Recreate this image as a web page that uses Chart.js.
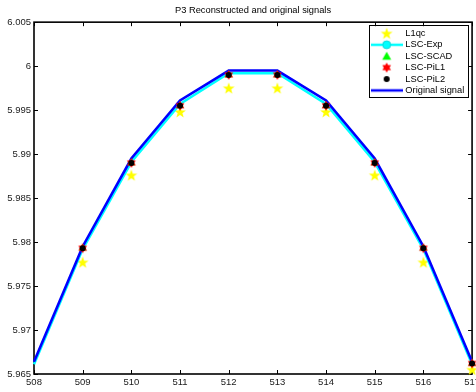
<!DOCTYPE html>
<html><head><meta charset="utf-8">
<script src="https://cdn.jsdelivr.net/npm/chart.js@4/dist/chart.umd.min.js"></script>
<style>
html,body{margin:0;padding:0;overflow:hidden;background:#fff;width:476px;height:392px}
#wrap{position:absolute;left:0;top:0;width:483px;height:392px}
</style>
</head><body><div id="wrap"><canvas id="c" width="483" height="392"></canvas></div>
<script>
// ---- data ----
const categories = [508, 509, 510, 511, 512, 513, 514, 515, 516, 517];
const yTicks = [5.965, 5.97, 5.975, 5.98, 5.985, 5.99, 5.995, 6, 6.005];
const originalSignal = [5.9664, 5.9795, 5.9895, 5.9961, 5.9995, 5.9995, 5.9961, 5.9895, 5.9795, 5.9664];
const lscExp        = [5.9661, 5.9792, 5.9891, 5.9957, 5.9992, 5.9992, 5.9957, 5.9891, 5.9792, 5.9661];
const lscScad       = [null, 5.9793, 5.9890, 5.9955, 5.9990, 5.9990, 5.9955, 5.9890, 5.9793, 5.9662];
const lscPil1       = [null, 5.9793, 5.9890, 5.9955, 5.9990, 5.9990, 5.9955, 5.9890, 5.9793, 5.9662];
const lscPil2       = [null, 5.9793, 5.9890, 5.9955, 5.9990, 5.9990, 5.9955, 5.9890, 5.9793, 5.9662];
const l1qc          = [null, 5.9777, 5.9876, 5.9948, 5.9975, 5.9975, 5.9948, 5.9876, 5.9777, 5.9655];
const seriesNames = ['L1qc', 'LSC-Exp', 'LSC-SCAD', 'LSC-PiL1', 'LSC-PiL2', 'Original signal'];
const titleText = 'P3 Reconstructed and original signals';

// ---- marker / legend icon helpers ----
function makeCanvas(w, h, fn) { const c = document.createElement('canvas'); c.width = w; c.height = h; fn(c.getContext('2d'), w, h); return c; }
function starPath(ctx, cx, cy, n, ro, ri) {
  ctx.beginPath();
  for (let k = 0; k < 2 * n; k++) { const r = k % 2 ? ri : ro; const a = -Math.PI / 2 + k * Math.PI / n; ctx.lineTo(cx + r * Math.cos(a), cy + r * Math.sin(a)); }
  ctx.closePath();
}
const drawPenta = (ctx, cx, cy) => { starPath(ctx, cx, cy, 5, 6.2, 2.5); ctx.fillStyle = '#ffff00'; ctx.fill(); };
const drawHexa = (ctx, cx, cy) => { starPath(ctx, cx, cy, 6, 5, 2.9); ctx.fillStyle = '#ff0000'; ctx.fill(); };
const drawTri = (ctx, cx, cy) => { ctx.beginPath(); ctx.moveTo(cx, cy - 4.5); ctx.lineTo(cx + 4.5, cy + 3.5); ctx.lineTo(cx - 4.5, cy + 3.5); ctx.closePath(); ctx.fillStyle = '#00ff00'; ctx.fill(); };
const drawDot = (ctx, cx, cy) => { ctx.beginPath(); ctx.arc(cx, cy, 3, 0, 2 * Math.PI); ctx.fillStyle = '#000'; ctx.fill(); };

const pentaImg = makeCanvas(14, 14, (c) => drawPenta(c, 7, 7.5));
const hexaImg = makeCanvas(12, 12, (c) => drawHexa(c, 6, 6));

const IW = 32, IH = 14;
const legendIcons = [
  makeCanvas(IW, IH, (c) => drawPenta(c, IW / 2, IH / 2 + 0.5)),
  makeCanvas(IW, IH, (c) => { c.fillStyle = '#00ffff'; c.fillRect(0, IH / 2 - 1.25, IW, 2.5); c.beginPath(); c.arc(IW / 2, IH / 2, 4, 0, 2 * Math.PI); c.fill(); c.strokeStyle = '#00d0d0'; c.lineWidth = 0.8; c.stroke(); }),
  makeCanvas(IW, IH, (c) => drawTri(c, IW / 2, IH / 2)),
  makeCanvas(IW, IH, (c) => drawHexa(c, IW / 2, IH / 2)),
  makeCanvas(IW, IH, (c) => drawDot(c, IW / 2, IH / 2)),
  makeCanvas(IW, IH, (c) => { c.fillStyle = '#0000ff'; c.fillRect(0, IH / 2 - 1.25, IW, 2.5); })
];

Chart.defaults.font.family = '"Liberation Sans", Arial, Helvetica, sans-serif';
Chart.defaults.color = '#1a1a1a';

const axBox = {
  id: 'axBox',
  beforeDraw(chart) {
    const { ctx, chartArea: a } = chart;
    const bx = Math.round(a.right - 103) + 0.5, by = Math.round(a.top + 3) + 0.5;
    ctx.save();
    ctx.fillStyle = '#fff'; ctx.fillRect(bx, by, 99, 72);
    ctx.strokeStyle = '#000'; ctx.lineWidth = 1; ctx.strokeRect(bx, by, 99, 72);
    ctx.restore();
  },
  beforeDatasetsDraw(chart) {
    const { ctx, chartArea: a, scales: { x, y } } = chart;
    ctx.save();
    ctx.strokeStyle = '#000'; ctx.lineWidth = 1;
    ctx.beginPath();
    x.ticks.forEach((t, i) => { const px = Math.round(x.getPixelForTick(i)) + 0.5; ctx.moveTo(px, a.bottom); ctx.lineTo(px, a.bottom - 4); ctx.moveTo(px, a.top); ctx.lineTo(px, a.top + 4); });
    y.ticks.forEach((t, i) => { const py = Math.round(y.getPixelForTick(i)) + 0.5; ctx.moveTo(a.left, py); ctx.lineTo(a.left + 4, py); ctx.moveTo(a.right, py); ctx.lineTo(a.right - 4, py); });
    ctx.stroke();
    ctx.lineWidth = 1.6;
    ctx.strokeRect(a.left, a.top, a.right - a.left, a.bottom - a.top);
    ctx.restore();
  },
  afterLayout(chart) {
    const L = chart.legend, a = chart.chartArea;
    L.left = a.right - 101.5; L.right = L.left + 100;
    L.top = a.top + 4.5; L.bottom = a.bottom;
  }
};

new Chart(document.getElementById('c'), {
  type: 'line',
  data: {
    labels: categories,
    datasets: [
      { label: seriesNames[0], data: l1qc, showLine: false, pointStyle: pentaImg, pointRadius: 6, order: 6, clip: false },
      { label: seriesNames[1], data: lscExp, borderColor: '#00ffff', backgroundColor: '#00ffff', borderWidth: 2.6, pointRadius: 0, order: 5 },
      { label: seriesNames[2], data: lscScad, showLine: false, pointStyle: 'triangle', pointRadius: 4.5, backgroundColor: '#00ff00', borderColor: '#00ff00', borderWidth: 0, order: 3, clip: false },
      { label: seriesNames[3], data: lscPil1, showLine: false, pointStyle: hexaImg, pointRadius: 5, order: 2, clip: false },
      { label: seriesNames[4], data: lscPil2, showLine: false, pointStyle: 'circle', pointRadius: 3, backgroundColor: '#000', borderColor: '#000', borderWidth: 0, order: 1, clip: false },
      { label: seriesNames[5], data: originalSignal, borderColor: '#0000ff', backgroundColor: '#0000ff', borderWidth: 2.6, pointRadius: 0, order: 4 }
    ]
  },
  options: {
    responsive: false,
    animation: false,
    events: [],
    layout: { padding: 0 },
    scales: {
      x: {
        type: 'category', offset: false,
        grid: { display: false, drawTicks: false }, border: { display: false },
        ticks: { padding: 3, font: { size: 9.5 }, maxRotation: 0, autoSkip: false },
        afterFit: (s) => { s.height = 18; }
      },
      y: {
        min: 5.965, max: 6.005,
        grid: { display: false, drawTicks: false }, border: { display: false },
        afterBuildTicks: (s) => { s.ticks = yTicks.map((v) => ({ value: v })); },
        ticks: { padding: 3, font: { size: 9.5 }, callback: (v) => String(Number(Number(v).toFixed(4))) },
        afterFit: (s) => { s.width = 34; }
      }
    },
    plugins: {
      title: { display: true, text: titleText, fullSize: false, color: '#000', font: { size: 9.3, weight: 'normal' }, padding: { top: 5, bottom: 6 } },
      tooltip: { enabled: false },
      legend: {
        position: 'chartArea', align: 'start',
        labels: {
          usePointStyle: true, pointStyleWidth: 28, padding: 2.1, color: '#000', font: { size: 9.3 },
          generateLabels: (chart) => chart.data.datasets.map((ds, i) => ({
            text: ds.label, pointStyle: legendIcons[i], fillStyle: 'rgba(0,0,0,0)', strokeStyle: 'rgba(0,0,0,0)',
            lineWidth: 0, hidden: false, datasetIndex: i, fontColor: '#000', textAlign: 'left'
          }))
        }
      }
    }
  },
  plugins: [axBox]
});
</script>
</body></html>
